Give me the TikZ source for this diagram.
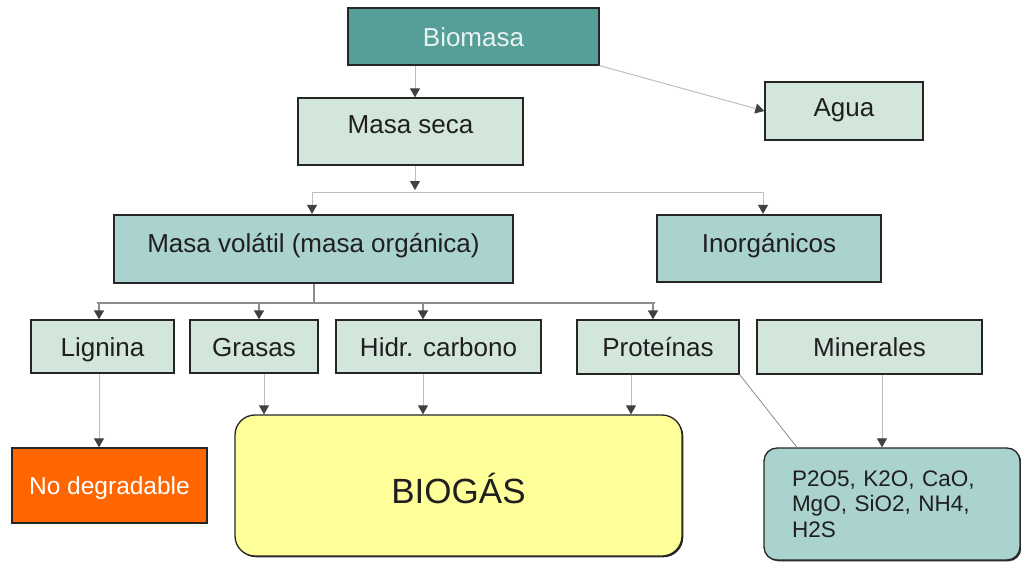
\documentclass[tikz,border=0pt]{standalone}
\usepackage{fontspec}
\setmainfont{Liberation Sans}
\usetikzlibrary{arrows.meta,shadows}
\definecolor{teal1}{RGB}{86,158,152}
\definecolor{lgreen}{RGB}{211,230,220}
\definecolor{mteal}{RGB}{170,210,206}
\definecolor{orng}{RGB}{255,102,0}
\definecolor{ylw}{RGB}{255,255,153}
\definecolor{lnlight}{RGB}{190,190,190}
\definecolor{lndark}{RGB}{140,140,140}
\definecolor{tipc}{RGB}{65,65,65}
\tikzset{
  basebox/.style={draw=black!85, line width=1.3pt, inner sep=0pt,
    font=\fontsize{26}{30}\selectfont, text=black!88,
    drop shadow={shadow xshift=1.3pt, shadow yshift=-1.3pt, fill=black!85, opacity=1}},
  box/.style={basebox, text height=19pt, text depth=0pt},
  thickbox/.style={box, line width=2.2pt},
  conn/.style={draw=lnlight, line width=1pt},
  darkconn/.style={draw=lndark, line width=1.4pt},
  arr/.style={-{Triangle[width=10pt,length=9pt,color=tipc]}},
}
\begin{document}
\begin{tikzpicture}[x=1pt,y=-1pt]
\useasboundingbox (0,0) rectangle (1021,562);

% nodes
\node[box, fill=teal1, text={rgb,255:red,232;green,242;blue,240}, minimum width=251pt, minimum height=57pt] (bio) at (473.5,36.5) {Biomasa};
\node[box, fill=lgreen, minimum width=225pt, minimum height=67pt, text depth=14.4pt] (ms) at (410.5,131.5) {Masa seca};
\node[box, fill=lgreen, minimum width=158pt, minimum height=58pt, text depth=7.4pt] (agua) at (844,111) {Agua};
\node[thickbox, fill=mteal, minimum width=399pt, minimum height=68pt, text depth=12.4pt] (mv) at (313.5,249) {Masa volátil (masa orgánica)};
\node[thickbox, fill=mteal, minimum width=224pt, minimum height=67pt, text depth=11.4pt] (inorg) at (769,248.5) {Inorgánicos};
\node[box, fill=lgreen, minimum width=143pt, minimum height=53pt] (lig) at (102.5,346.5) {Lignina};
\node[box, fill=lgreen, minimum width=128pt, minimum height=53pt] (gras) at (254,346.5) {Grasas};
\node[box, fill=lgreen, minimum width=205pt, minimum height=53pt] (hidr) at (438.5,346.5) {Hidr. carbono};
\node[box, fill=lgreen, minimum width=162pt, minimum height=54pt] (prot) at (658,347) {Proteínas};
\node[box, fill=lgreen, minimum width=225pt, minimum height=54pt] (minr) at (869.5,347) {Minerales};
\node[box, fill=orng, text=white, font=\fontsize{24.5}{28}\selectfont, minimum width=195pt, minimum height=75pt, text height=17.5pt] (nd) at (109.5,485.5) {No degradable};
\node[box, fill=ylw, rounded corners=20pt, font=\fontsize{35}{40}\selectfont, minimum width=447pt, minimum height=141pt, text height=35pt] (bg) at (458.5,485.5) {BIOGÁS};
\node[basebox, fill=mteal, rounded corners=13pt, font=\fontsize{22.5}{25.5}\selectfont, minimum width=256pt, minimum height=112pt, text width=200pt, align=left] (mb) at (892,504) {P2O5, K2O, CaO,\\MgO, SiO2, NH4,\\H2S};

% coordinates
\coordinate (b1m) at (415,192);
\coordinate (b1l) at (312,192);
\coordinate (b1r) at (763,192);
\coordinate (b2m) at (314,303);
\coordinate (b2l) at (97,303);
\coordinate (b2r) at (655,303);

% connectors
\draw[conn, arr] (bio.south -| 415,0) -- (ms.north -| 415,0);
\draw[conn, arr] (bio.south east) -- (agua.west);
\draw[conn, arr] (ms.south -| b1m) -- ([yshift=2pt]b1m);
\draw[conn] (b1l) -- (b1r);
\draw[conn, arr] (b1l) -- (mv.north -| b1l);
\draw[conn, arr] (b1r) -- (inorg.north -| b1r);

\draw[darkconn] (mv.south -| b2m) -- (b2m);
\draw[darkconn] (b2l) -- (b2r);
\draw[darkconn, arr] (99,303) -- (lig.north -| 99,0);
\draw[darkconn, arr] (259,303) -- (gras.north -| 259,0);
\draw[darkconn, arr] (423,303) -- (hidr.north -| 423,0);
\draw[darkconn, arr] (653,303) -- (prot.north -| 653,0);

\draw[conn, arr] (lig.south -| 99,0) -- (nd.north -| 99,0);
\draw[conn, arr] (gras.south -| 264,0) -- (bg.north -| 264,0);
\draw[conn, arr] (hidr.south -| 423,0) -- (bg.north -| 423,0);
\draw[conn, arr] (prot.south -| 631,0) -- (bg.north -| 631,0);
\draw[conn, draw=lndark, line width=0.8pt] (prot.south east) -- (mb.north -| 797,0);
\draw[conn, arr] (minr.south -| 882,0) -- (mb.north -| 882,0);
\end{tikzpicture}
\end{document}
